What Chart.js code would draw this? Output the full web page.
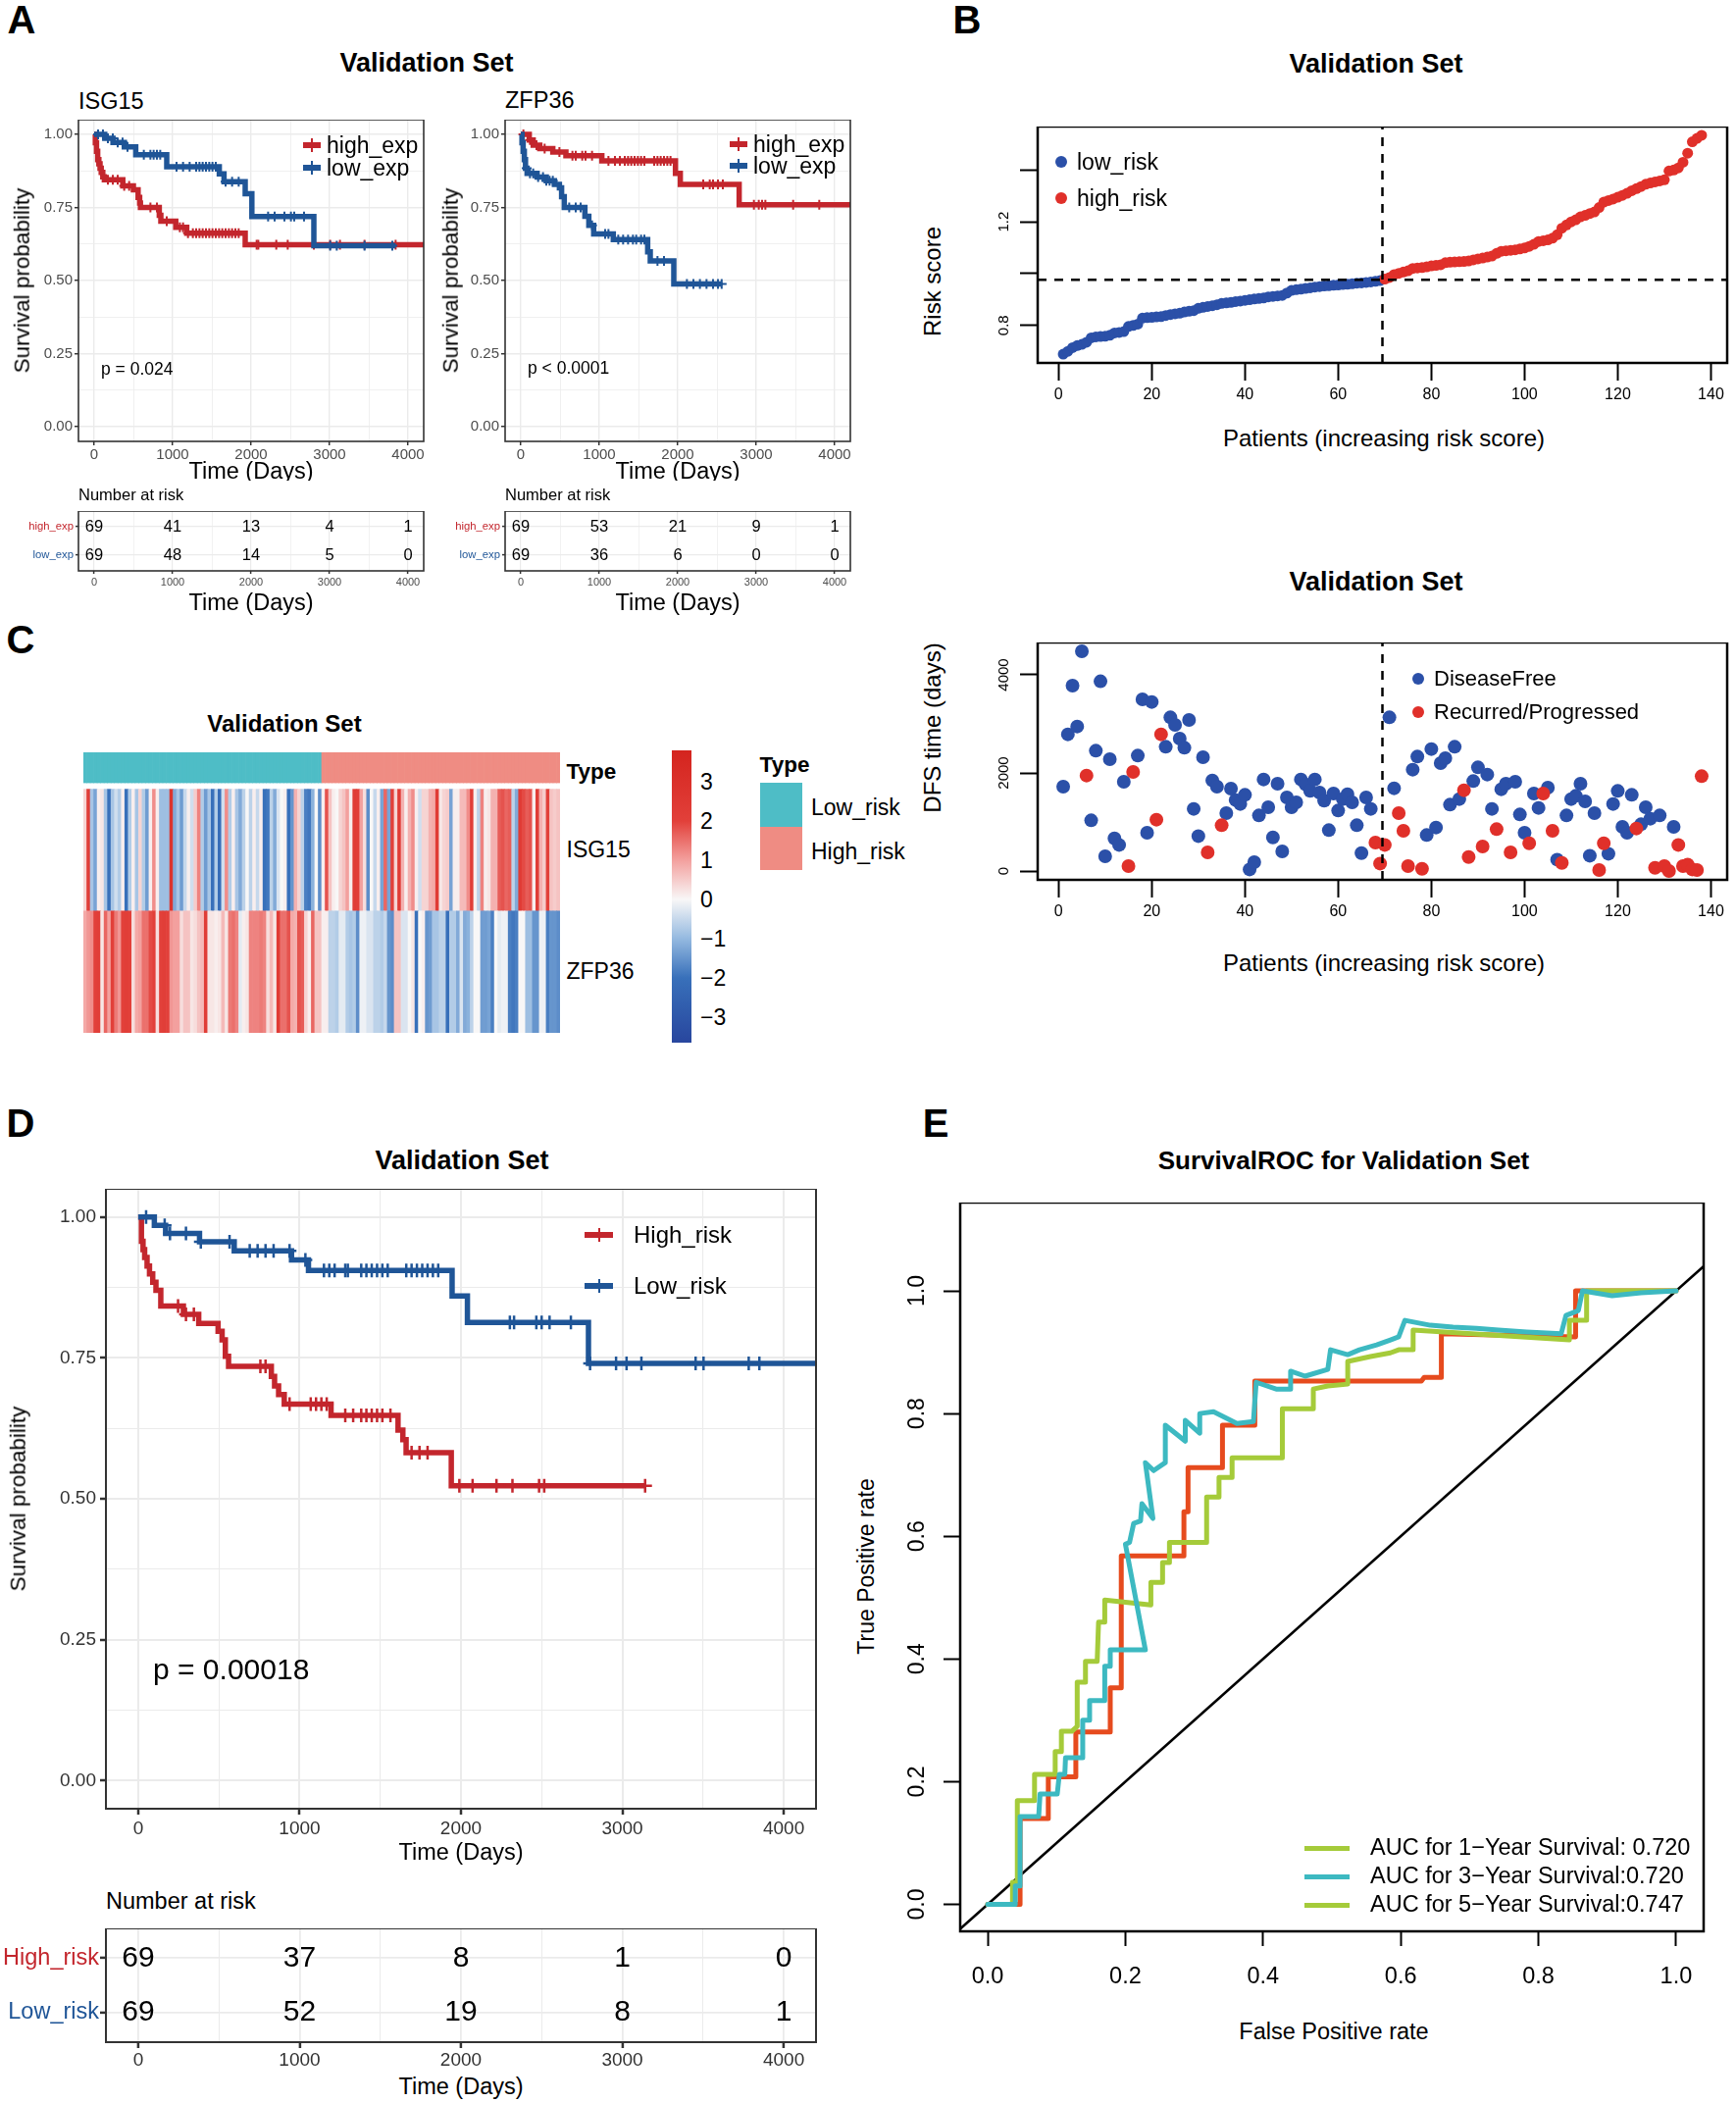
<!DOCTYPE html>
<html>
<head>
<meta charset="utf-8">
<script src="https://cdn.jsdelivr.net/npm/chart.js@4.4.1/dist/chart.umd.min.js"></script>
<style>
  body { margin: 0; width: 1770px; height: 2143px; position: relative; background: #fff; overflow: hidden;
         font-family: "Liberation Sans", Arial, Helvetica, sans-serif; }
  .t { position: absolute; white-space: nowrap; line-height: 1; }
  .r { position: absolute; }
</style>
</head>
<body>
<script>
// ---------------- data ----------------
// Kaplan-Meier axes
const kmTimeTicks = [0, 1000, 2000, 3000, 4000];
const kmMinorTimes = [500, 1500, 2500, 3500];
const survTicks = [0, 0.25, 0.5, 0.75, 1];
const survMinorTicks = [0.125, 0.375, 0.625, 0.875];
const riskTimes = [0, 1000, 2000, 3000, 4000];

// A: ISG15
const isgHighTime = [0, 15, 30, 45, 60, 75, 90, 110, 130, 365, 500, 560, 580, 590, 830, 850, 1040, 1180, 1925];
const isgHighSurv = [1, 0.971, 0.942, 0.913, 0.899, 0.884, 0.870, 0.855, 0.845, 0.824, 0.810, 0.784, 0.765, 0.750, 0.723, 0.703, 0.682, 0.662, 0.622];
const isgHighCens = [175, 238, 300, 383, 446, 717, 800, 925, 1092, 1133, 1196, 1258, 1300, 1342, 1383, 1425, 1467, 1508, 1550, 1592, 1633, 1675, 1717, 1758, 1800, 1842, 2071, 2092, 2321, 2467, 2800, 3008, 3133, 3446, 3842];
const isgHighEnd = 4250;
const isgLowTime = [0, 135, 240, 385, 530, 925, 1595, 1655, 1925, 2010, 2800];
const isgLowSurv = [1, 0.986, 0.972, 0.957, 0.930, 0.889, 0.865, 0.838, 0.797, 0.719, 0.619];
const isgLowCens = [50, 112, 175, 238, 300, 362, 425, 633, 717, 758, 800, 842, 1050, 1133, 1217, 1300, 1342, 1383, 1425, 1467, 1508, 1550, 1675, 1758, 1842, 2217, 2300, 2425, 2508, 2550, 2675, 3008, 3092, 3446, 3800];
const isgLowEnd = 3842;
const isgRiskHigh = [69, 41, 13, 4, 1];
const isgRiskLow = [69, 48, 14, 5, 0];

// A: ZFP36
const zfpHighTime = [0, 108, 158, 242, 408, 575, 1033, 1971, 2033, 2783];
const zfpHighSurv = [1, 0.980, 0.963, 0.951, 0.939, 0.927, 0.909, 0.866, 0.829, 0.759];
const zfpHighCens = [33, 117, 200, 304, 492, 658, 700, 783, 825, 908, 1117, 1200, 1263, 1325, 1367, 1408, 1450, 1492, 1533, 1575, 1700, 1742, 1783, 1825, 1867, 1908, 2325, 2408, 2450, 2513, 2575, 2971, 3033, 3075, 3117, 3471, 3804];
const zfpHighEnd = 4250;
const zfpLowTime = [0, 15, 30, 45, 60, 80, 208, 325, 429, 492, 520, 554, 817, 867, 929, 1179, 1617, 1650, 1950];
const zfpLowSurv = [1, 0.971, 0.942, 0.913, 0.884, 0.866, 0.854, 0.841, 0.829, 0.817, 0.787, 0.750, 0.720, 0.689, 0.659, 0.640, 0.598, 0.567, 0.488];
const zfpLowCens = [75, 117, 158, 221, 283, 325, 367, 408, 617, 700, 763, 908, 1075, 1117, 1242, 1304, 1367, 1429, 1471, 1533, 1575, 1742, 1825, 2117, 2200, 2283, 2367, 2450, 2513, 2560];
const zfpLowEnd = 2560;
const zfpRiskHigh = [69, 53, 21, 9, 1];
const zfpRiskLow = [69, 36, 6, 0, 0];

// B: risk score (patients sorted by increasing risk) and DFS
const groupSizes = [69, 69]; // low_risk, high_risk
const riskScore = [0.689, 0.700, 0.714, 0.722, 0.727, 0.735, 0.752, 0.756, 0.757, 0.758,
  0.762, 0.771, 0.773, 0.776, 0.796, 0.800, 0.805, 0.828, 0.830, 0.831,
  0.833, 0.834, 0.838, 0.842, 0.845, 0.847, 0.852, 0.855, 0.857, 0.866,
  0.870, 0.873, 0.876, 0.880, 0.885, 0.887, 0.889, 0.892, 0.894, 0.897,
  0.899, 0.902, 0.904, 0.906, 0.910, 0.912, 0.914, 0.916, 0.925, 0.935,
  0.938, 0.940, 0.943, 0.945, 0.948, 0.950, 0.952, 0.953, 0.955, 0.956,
  0.958, 0.959, 0.961, 0.963, 0.964, 0.966, 0.968, 0.970, 0.973, 0.979,
  0.985, 0.996, 1.001, 1.006, 1.011, 1.020, 1.022, 1.023, 1.026, 1.030,
  1.032, 1.034, 1.042, 1.044, 1.045, 1.046, 1.047, 1.049, 1.053, 1.057,
  1.060, 1.064, 1.068, 1.078, 1.086, 1.088, 1.090, 1.092, 1.095, 1.099,
  1.105, 1.113, 1.124, 1.127, 1.130, 1.137, 1.150, 1.175, 1.188, 1.200,
  1.208, 1.219, 1.225, 1.232, 1.238, 1.255, 1.276, 1.282, 1.288, 1.295,
  1.302, 1.310, 1.320, 1.328, 1.336, 1.345, 1.350, 1.354, 1.358, 1.362,
  1.396, 1.400, 1.408, 1.430, 1.465, 1.509, 1.522, 1.534];
const riskTicks = [0.8, 1.0, 1.2, 1.4];
const riskTickLabels = ['0.8', '', '1.2', ''];
const patientTicks = [0, 20, 40, 60, 80, 100, 120, 140];
const dfsTime = [1720, 2787, 3780, 2947, 4480, 1947, 1033, 2453, 3867, 300,
  2280, 667, 533, 1820, 100, 2020, 2353, 3500, 780, 3447,
  1047, 2787, 2533, 3133, 2980, 2700, 2513, 3080, 1267, 713,
  2320, 380, 1847, 1720, 933, 1180, 1680, 1447, 1367, 1553,
  33, 180, 1133, 1867, 1300, 687, 1780, 400, 1500, 1300,
  1400, 1867, 1767, 1633, 1867, 1600, 1433, 833, 1580, 1233,
  1467, 1567, 1400, 933, 367, 1500, 1267, 580, 153, 533,
  3133, 1687, 1180, 820, 100, 2067, 2333, 47, 733, 2487,
  887, 2200, 2300, 1353, 2533, 1467, 1647, 287, 1833, 2113,
  500, 1967, 1267, 853, 1667, 1780, 380, 1820, 1153, 780,
  567, 1580, 1287, 1580, 1700, 820, 233, 167, 1133, 1467,
  1533, 1780, 1420, 313, 1180, 20, 567, 353, 1367, 1633,
  900, 780, 1553, 867, 953, 1300, 1067, 67, 1133, 100,
  0, 900, 533, 100, 133, 33, 20, 1933];
const dfsStatus = [0, 0, 0, 0, 0, 1, 0, 0, 0, 0,
  0, 0, 0, 0, 1, 1, 0, 0, 0, 0,
  1, 1, 0, 0, 0, 0, 0, 0, 0, 0,
  0, 1, 0, 0, 1, 0, 0, 0, 0, 0,
  0, 0, 0, 0, 0, 0, 0, 0, 0, 0,
  0, 0, 0, 0, 0, 0, 0, 0, 0, 0,
  0, 0, 0, 0, 0, 0, 0, 1, 1, 1,
  0, 0, 1, 1, 1, 0, 0, 1, 0, 0,
  0, 0, 0, 0, 0, 0, 1, 1, 0, 0,
  1, 0, 0, 1, 0, 0, 1, 0, 0, 0,
  1, 0, 0, 1, 0, 1, 0, 1, 0, 0,
  0, 0, 0, 0, 0, 1, 1, 0, 0, 0,
  0, 0, 0, 1, 0, 0, 0, 1, 0, 1,
  1, 0, 1, 1, 1, 1, 1, 1];
const dfsTicks = [0, 2000, 4000];

// C: heatmap z-scores (same patient order)
const isg15 = [0.4, 2.2, -0.8, -1.3, 0.1, 0.2, -0.8, -2.0, -0.8, -0.4,
  -0.7, 0.1, -2.0, -0.7, 0.1, -0.8, 0.4, -0.7, -1.4, 0.1,
  1.2, 0.1, -0.9, -0.9, -0.9, 2.8, -1.2, -0.8, -1.4, -0.5,
  0.1, -0.4, 0.5, 1.3, -0.7, -1.4, -0.8, -2.0, -0.7, -2.1,
  -0.4, 1.2, -0.7, 0.1, -0.8, -1.2,
  -0.6, 0.0, -0.6, 0.1, -0.5, 0.1, -2.0, -1.9, -0.6, -1.2,
  -0.3, 0.0, 0.1, -2.0, -1.5, 0.8, 0.4, -0.6, -1.8, -1.9,
  -1.1, 0.0, -1.6, 0.1, 1.8, 0.6, 0.1, 0.0, 0.4, 0.6,
  1.0, 0.1, 2.2, 2.1, 1.0, 0.3, -1.6, 0.0, -0.5, 0.1,
  -1.3, 1.6, -1.3, 2.0, 0.4, 2.3,
  0.8, 0.1, 0.8, 1.2, 0.1, -0.4, 0.4, 0.4, 0.8, 0.9,
  2.3, 0.2, 0.4, 0.5, -1.3, 0.1, 0.1, 0.7, 0.7, 1.2,
  2.2, 0.1, -0.6, 1.3, 0.1, 0.2, 0.8, 0.8, 1.7, 1.8,
  1.6, 1.7, -0.6, -1.2, 2.3, 1.9, 1.7, 1.8, 0.1, 2.2,
  0.8, 0.5, 2.0, 0.6, 0.5, 0.6];
const zfp36 = [0.9, 1.1, 1.2, 2.0, 2.1, 0.2, 1.6, 1.0, 2.0, 1.4,
  1.1, 2.0, 2.1, 2.0, 0.3, 0.9, 1.0, 1.5, 1.5, 1.9,
  2.0, 0.3, 2.0, 2.1, 2.0, 1.1, 1.0, 1.0, 0.3, 0.6,
  0.6, 0.2, 0.3, 0.6, 0.7, 2.2, 0.2, 0.2, 0.1, 0.2,
  0.7, 0.2, 1.4, 1.5, 1.3, -0.2,
  0.1, 0.2, 1.3, 1.3, 1.3, 1.4, 1.3, 0.3, 0.7, 0.2,
  2.3, 1.5, 1.5, 1.8, 0.9, 0.8, 1.8, 1.7, 0.4, 0.1,
  1.6, 0.6, 0.6, 0.1, 0.1, -0.6, -0.6, -0.7, -0.2, -0.2,
  -0.7, -0.8, -0.7, -1.6, -0.1, -0.1, -0.3, -0.3, -0.6, -0.6,
  -0.7, -0.5, -1.5, -1.6, 0.6, 0.6,
  -0.3, -0.3, 0.0, 0.2, -2.0, 0.0, 0.1, -1.5, -1.4, -0.8,
  -0.8, -0.6, -0.6, -2.0, -0.7, -0.7, -1.2, -0.3, -1.2, -1.1,
  -0.6, 0.0, 0.0, -1.4, -1.4, -1.3, -1.8, 0.0, -0.2, -0.1,
  -0.1, -1.8, -1.9, -1.8, 0.0, 0.0, -0.9, -0.9, -1.5, -1.5,
  -0.1, -0.1, -1.8, -1.5, -1.5, -1.6];
const colorbarTicks = [3, 2, 1, 0, -1, -2, -3];
const colorbarRange = [-3.65, 3.8];

// D: risk groups
const dHighTime = [0, 20, 30, 40, 55, 70, 90, 110, 140, 280, 375, 495, 520, 540, 560, 825, 845, 870, 905, 1195, 1610, 1640, 1660, 1940];
const dHighSurv = [1, 0.957, 0.942, 0.928, 0.913, 0.899, 0.884, 0.870, 0.842, 0.827, 0.811, 0.797, 0.782, 0.753, 0.735, 0.717, 0.700, 0.685, 0.668, 0.648, 0.622, 0.605, 0.582, 0.523];
const dHighCens = [247, 296, 345, 757, 789, 938, 1069, 1102, 1135, 1168, 1283, 1332, 1382, 1414, 1447, 1480, 1513, 1563, 1694, 1743, 1793, 1990, 2072, 2220, 2319, 2484, 2516, 3141];
const dHighEnd = 3141;
const dLowTime = [0, 100, 170, 380, 595, 950, 1055, 1945, 2040, 2790];
const dLowSurv = [1, 0.985, 0.971, 0.956, 0.940, 0.924, 0.905, 0.860, 0.813, 0.740];
const dLowCens = [49, 164, 197, 296, 388, 566, 691, 740, 789, 839, 938, 1036, 1151, 1184, 1217, 1283, 1299, 1382, 1414, 1447, 1480, 1513, 1546, 1661, 1694, 1727, 1760, 1793, 1826, 1859, 2303, 2329, 2467, 2500, 2549, 2681, 2800, 2961, 3026, 3118, 3454, 3503, 3783, 3849];
const dLowEnd = 4250;
const dRiskHigh = [69, 37, 8, 1, 0];
const dRiskLow = [69, 52, 19, 8, 1];

// E: survival ROC curves
const rocTicks = [0, 0.2, 0.4, 0.6, 0.8, 1.0];
const rocOrangeFpr = [0, 0.047, 0.047, 0.088, 0.088, 0.128, 0.128, 0.178, 0.178, 0.194, 0.194, 0.285, 0.285, 0.291, 0.291, 0.341, 0.341, 0.388, 0.388, 0.630, 0.634, 0.659, 0.659, 0.854, 0.854, 1];
const rocOrangeTpr = [0, 0, 0.140, 0.140, 0.208, 0.208, 0.281, 0.281, 0.353, 0.353, 0.568, 0.568, 0.640, 0.640, 0.712, 0.712, 0.781, 0.781, 0.853, 0.853, 0.859, 0.859, 0.930, 0.925, 1.0, 1.0];
const rocGreenFpr = [0, 0.036, 0.036, 0.043, 0.043, 0.068, 0.068, 0.097, 0.098, 0.107, 0.107, 0.122, 0.130, 0.130, 0.142, 0.142, 0.159, 0.161, 0.170, 0.170, 0.237, 0.237, 0.254, 0.254, 0.264, 0.264, 0.318, 0.318, 0.336, 0.336, 0.355, 0.355, 0.428, 0.428, 0.473, 0.473, 0.494, 0.523, 0.523, 0.556, 0.585, 0.597, 0.618, 0.618, 0.845, 0.845, 0.870, 0.870, 1];
const rocGreenTpr = [0, 0, 0.036, 0.036, 0.169, 0.169, 0.212, 0.212, 0.249, 0.249, 0.282, 0.282, 0.290, 0.362, 0.362, 0.396, 0.396, 0.460, 0.460, 0.496, 0.488, 0.525, 0.525, 0.557, 0.557, 0.590, 0.590, 0.664, 0.664, 0.696, 0.696, 0.728, 0.728, 0.808, 0.808, 0.840, 0.845, 0.848, 0.885, 0.893, 0.899, 0.904, 0.904, 0.936, 0.920, 0.952, 0.952, 1.0, 1.0];
const rocTealFpr = [0, 0.040, 0.040, 0.047, 0.047, 0.074, 0.076, 0.101, 0.104, 0.112, 0.113, 0.138, 0.138, 0.148, 0.148, 0.170, 0.170, 0.178, 0.178, 0.229, 0.200, 0.206, 0.212, 0.222, 0.224, 0.240, 0.229, 0.241, 0.258, 0.258, 0.287, 0.287, 0.308, 0.308, 0.328, 0.362, 0.386, 0.390, 0.419, 0.440, 0.440, 0.461, 0.494, 0.498, 0.523, 0.540, 0.565, 0.585, 0.597, 0.606, 0.643, 0.676, 0.710, 0.742, 0.783, 0.833, 0.840, 0.858, 0.864, 0.907, 0.949, 1];
const rocTealTpr = [0, 0, 0.030, 0.030, 0.143, 0.143, 0.180, 0.180, 0.212, 0.212, 0.239, 0.239, 0.300, 0.300, 0.332, 0.332, 0.388, 0.388, 0.415, 0.415, 0.587, 0.590, 0.621, 0.625, 0.653, 0.629, 0.720, 0.707, 0.720, 0.781, 0.755, 0.789, 0.768, 0.800, 0.803, 0.784, 0.787, 0.851, 0.840, 0.840, 0.869, 0.861, 0.872, 0.904, 0.896, 0.904, 0.912, 0.920, 0.925, 0.952, 0.944, 0.941, 0.939, 0.936, 0.933, 0.930, 0.960, 0.968, 1.0, 0.992, 0.997, 1.0];
const rocLegendLabels = ['AUC for 1\u2212Year Survival: 0.720', 'AUC for 3\u2212Year Survival:0.720', 'AUC for 5\u2212Year Survival:0.747'];

// ---------------- styles ----------------
const ARIAL = '"Liberation Sans", Arial, Helvetica, sans-serif';
const KM_RED = '#C3262D', KM_BLUE = '#1F5597';
const PT_BLUE = '#2B50A8', PT_RED = '#E0302A';
const TEAL = '#4EBDC6', SALMON = '#EF8C83';
const ROC_ORANGE = '#E64B1E', ROC_GREEN = '#A5CB3A', ROC_TEAL = '#3DB9C1';
const rocLegendColors = [ROC_GREEN, ROC_TEAL, ROC_GREEN];

// ---------------- helpers ----------------
function txt(s, x, y, size, o = {}) {
  const d = document.createElement('div');
  d.className = 't';
  d.textContent = s;
  const ax = o.align === 'left' ? '0%' : o.align === 'right' ? '-100%' : '-50%';
  d.style.cssText = `left:${x}px;top:${y}px;font-size:${size}px;font-weight:${o.bold ? 'bold' : 'normal'};` +
    `color:${o.color || '#000'};transform:translate(${ax},-50%)${o.rot ? ' rotate(' + o.rot + 'deg)' : ''};`;
  document.body.appendChild(d);
}
function rect(x, y, w, h, color, extra = '') {
  const d = document.createElement('div');
  d.className = 'r';
  d.style.cssText = `left:${x}px;top:${y}px;width:${w}px;height:${h}px;background:${color};${extra}`;
  document.body.appendChild(d);
}
function ext(arr, f) {
  const lo = Math.min(...arr), hi = Math.max(...arr), d = (hi - lo) * f;
  return [lo - d, hi + d];
}
function survAt(time, surv, t) {
  let s = surv[0];
  for (let i = 0; i < time.length; i++) if (time[i] <= t) s = surv[i];
  return s;
}
function canvasFor(box, m) {
  const [l, t, r, b] = box;
  const W = Math.round(r - l + m.l + m.r), H = Math.round(b - t + m.t + m.b);
  const c = document.createElement('canvas');
  c.width = W; c.height = H;
  c.style.cssText = `position:absolute;left:${l - m.l}px;top:${t - m.t}px;width:${W}px;height:${H}px;`;
  document.body.appendChild(c);
  return c;
}
function fitTo(size, horizontal) {
  return s => {
    if (horizontal) s.height = size; else s.width = size;
    s.paddingLeft = s.paddingRight = s.paddingTop = s.paddingBottom = 0;
  };
}
function baseOptions(m, plugins, scales) {
  return {
    responsive: false, animation: false, events: [],
    layout: { padding: { top: m.t, right: m.r, left: 0, bottom: 0 }, autoPadding: false },
    plugins: Object.assign({ legend: { display: false }, tooltip: { enabled: false } }, plugins),
    scales
  };
}

// plugins: panel frame, risk-table numbers, rotated y labels
const framePlugin = {
  id: 'frame',
  afterDatasetsDraw(chart, args, o) {
    const { ctx, chartArea: a } = chart;
    ctx.save();
    ctx.strokeStyle = o.color || '#000';
    ctx.lineWidth = o.width || 2;
    ctx.strokeRect(a.left, a.top, a.right - a.left, a.bottom - a.top);
    ctx.restore();
  }
};
const cellTextPlugin = {
  id: 'cellText',
  afterDatasetsDraw(chart, args, o) {
    const { ctx, scales: { x, y } } = chart;
    ctx.save();
    ctx.font = `${o.size}px ${ARIAL}`;
    ctx.fillStyle = '#000';
    ctx.textAlign = 'center';
    ctx.textBaseline = 'middle';
    o.rows.forEach(r => r.values.forEach((v, i) => {
      ctx.fillText(String(v), x.getPixelForValue(o.times[i]), y.getPixelForValue(r.y));
    }));
    ctx.restore();
  }
};
const rotYPlugin = {
  id: 'rotY',
  afterDraw(chart, args, o) {
    const { ctx, chartArea } = chart, y = chart.scales.y;
    ctx.save();
    ctx.font = `${o.size}px ${ARIAL}`;
    ctx.fillStyle = '#000';
    ctx.textAlign = 'center';
    ctx.textBaseline = 'middle';
    o.values.forEach((v, i) => {
      if (!o.labels[i]) return;
      ctx.save();
      ctx.translate(chartArea.left - o.offset, y.getPixelForValue(v));
      ctx.rotate(-Math.PI / 2);
      ctx.fillText(o.labels[i], 0, 0);
      ctx.restore();
    });
    ctx.restore();
  }
};

// ggplot-like axis (grey grid, short ticks)
function ggAxis(horizontal, range, major, minor, fmt, st) {
  const all = major.concat(minor).sort((a, b) => a - b);
  return {
    type: 'linear', min: range[0], max: range[1],
    afterBuildTicks: s => { s.ticks = all.map(v => ({ value: v })); },
    afterFit: fitTo(st.size, horizontal),
    ticks: { autoSkip: false, maxRotation: 0, minRotation: 0, padding: st.pad, color: st.color || '#4D4D4D',
             font: { family: ARIAL, size: st.font }, callback: v => major.includes(v) ? fmt(v) : '' },
    grid: { color: '#EBEBEB', lineWidth: c => major.includes(c.tick.value) ? st.gw : st.gw * 0.55,
            tickLength: st.tl, tickWidth: st.tw, tickColor: c => major.includes(c.tick.value) ? '#333' : 'rgba(0,0,0,0)' },
    border: { display: false }
  };
}
// R base-graphics axis (outer ticks only)
function rAxis(horizontal, range, ticks, fmt, st) {
  return {
    type: 'linear', min: range[0], max: range[1],
    afterBuildTicks: s => { s.ticks = ticks.map(v => ({ value: v })); },
    afterFit: fitTo(st.size, horizontal),
    ticks: { display: st.labels !== false, autoSkip: false, maxRotation: 0, minRotation: 0, padding: st.pad || 0,
             color: '#000', font: { family: ARIAL, size: st.font || 12 }, callback: fmt },
    grid: { drawOnChartArea: false, tickLength: st.tl, tickWidth: st.tw, tickColor: '#000' },
    border: { display: false }
  };
}

function kmChart(box, m, curves, st) {
  const c = canvasFor(box, m);
  const datasets = [];
  curves.forEach(k => {
    const line = k.time.map((t, i) => ({ x: t, y: k.surv[i] }));
    line.push({ x: k.end, y: k.surv[k.surv.length - 1] });
    datasets.push({ data: k.cens.map(t => ({ x: t, y: survAt(k.time, k.surv, t) })), showLine: false,
                    pointStyle: 'cross', pointRadius: st.cr, borderColor: k.color, borderWidth: st.cw, clip: 0 });
    datasets.push({ data: line, showLine: true, stepped: 'before', borderColor: k.color, borderWidth: st.lw,
                    pointRadius: 0, clip: 0 });
  });
  new Chart(c, {
    type: 'scatter', data: { datasets }, plugins: [framePlugin],
    options: baseOptions(m, { frame: { color: '#333', width: st.fw } }, {
      x: ggAxis(true, ext(kmTimeTicks, 0.05), kmTimeTicks, kmMinorTimes, v => String(v),
                { size: m.b, pad: st.xpad, font: st.font, tl: st.tl, tw: st.tw, gw: st.gw, color: st.tcol }),
      y: ggAxis(false, ext(survTicks, 0.05), survTicks, survMinorTicks, v => v.toFixed(2),
                { size: m.l, pad: st.ypad, font: st.font, tl: st.tl, tw: st.tw, gw: st.gw, color: st.tcol })
    })
  });
}

function riskTable(box, m, rows, st) {
  const c = canvasFor(box, m);
  const tableRows = rows.map((r, i) => Object.assign({ y: rows.length - i }, r));
  const yAxis = ggAxis(false, [0.45, rows.length + 0.55], tableRows.map(r => r.y), [], v => {
    const r = tableRows.find(q => q.y === v); return r ? r.label : '';
  }, { size: m.l, pad: st.ypad, font: st.labelFont, tl: st.tl, tw: st.tw, gw: st.gw });
  yAxis.ticks.color = ctx => (tableRows.find(q => q.y === ctx.tick.value) || {}).color || '#000';
  new Chart(c, {
    type: 'scatter', data: { datasets: [] }, plugins: [framePlugin, cellTextPlugin],
    options: baseOptions(m, {
      frame: { color: '#333', width: st.fw },
      cellText: { size: st.numFont, times: riskTimes, rows: tableRows }
    }, {
      x: ggAxis(true, ext(kmTimeTicks, 0.05), kmTimeTicks, kmMinorTimes, v => String(v),
                { size: m.b, pad: st.xpad, font: st.tickFont, tl: st.tl, tw: st.tw, gw: st.gw, color: st.tcol }),
      y: yAxis
    })
  });
}

function kmLegend(x, y, w, h, color, label, size, textX) {
  rect(x, y - h / 2, w, h, color);
  rect(x + w / 2 - 1, y - h / 2 - 4, 2, h + 8, color);
  txt(label, textX, y, size, { align: 'left' });
}

// ---------------- panel letters ----------------
txt('A', 22, 20, 40, { bold: true });
txt('B', 986, 20, 40, { bold: true });
txt('C', 21, 652, 40, { bold: true });
txt('D', 21, 1145, 40, { bold: true });
txt('E', 954, 1145, 40, { bold: true });

// ---------------- panel A ----------------
txt('Validation Set', 435, 64, 27, { bold: true });
const kmStyleA = { lw: 5.5, cr: 5, cw: 2, fw: 1.6, font: 15, xpad: 1, ypad: 2, tl: 4, tw: 1.5, gw: 1.4 };
kmChart([80, 122, 432, 450], { l: 80, r: 3, t: 0, b: 22 }, [
  { time: isgLowTime, surv: isgLowSurv, cens: isgLowCens, end: isgLowEnd, color: KM_BLUE },
  { time: isgHighTime, surv: isgHighSurv, cens: isgHighCens, end: isgHighEnd, color: KM_RED }
], kmStyleA);
kmChart([515, 122, 867, 450], { l: 80, r: 3, t: 0, b: 22 }, [
  { time: zfpLowTime, surv: zfpLowSurv, cens: zfpLowCens, end: zfpLowEnd, color: KM_BLUE },
  { time: zfpHighTime, surv: zfpHighSurv, cens: zfpHighCens, end: zfpHighEnd, color: KM_RED }
], kmStyleA);
txt('ISG15', 80, 104, 23.5, { align: 'left' });
txt('ZFP36', 515, 103, 23.5, { align: 'left' });
txt('Survival probability', 23, 286, 22.5, { rot: -90 });
txt('Survival probability', 460, 286, 22.5, { rot: -90 });
txt('Time (Days)', 256, 481, 23.5);
txt('Time (Days)', 691, 481, 23.5);
kmLegend(309, 148, 18, 6, KM_RED, 'high_exp', 23, 333);
kmLegend(309, 171, 18, 6, KM_BLUE, 'low_exp', 23, 333);
kmLegend(744, 147, 18, 6, KM_RED, 'high_exp', 23, 768);
kmLegend(744, 169, 18, 6, KM_BLUE, 'low_exp', 23, 768);
txt('p = 0.024', 103, 377, 17.5, { align: 'left' });
txt('p < 0.0001', 538, 376, 17.5, { align: 'left' });
rect(0, 490, 880, 30, '#fff');
txt('Number at risk', 80, 504, 16.5, { align: 'left' });
txt('Number at risk', 515, 504, 16.5, { align: 'left' });
const tabStyleA = { numFont: 16.5, labelFont: 11.3, tickFont: 11, fw: 1.6, xpad: 2, ypad: 2, tl: 3, tw: 1.5, gw: 1.2 };
riskTable([80, 521, 432, 582], { l: 80, r: 3, t: 0, b: 20 }, [
  { label: 'high_exp', color: KM_RED, values: isgRiskHigh },
  { label: 'low_exp', color: KM_BLUE, values: isgRiskLow }
], tabStyleA);
riskTable([515, 521, 867, 582], { l: 80, r: 3, t: 0, b: 20 }, [
  { label: 'high_exp', color: KM_RED, values: zfpRiskHigh },
  { label: 'low_exp', color: KM_BLUE, values: zfpRiskLow }
], tabStyleA);
txt('Time (Days)', 256, 615, 23.5);
txt('Time (Days)', 691, 615, 23.5);

// ---------------- panel B ----------------
const patientIdx = riskScore.map((_, i) => i + 1);
const xPat = ext(patientIdx, 0.04);
const nLow = groupSizes[0];
const cutX = nLow + 0.5;
const cutY = (riskScore[nLow - 1] + riskScore[nLow]) / 2;
const rX = (size) => rAxis(true, xPat, patientTicks, v => String(v), { size, pad: 5, font: 16, tl: 18, tw: 2 });

(function riskPlot() {
  const m = { l: 60, r: 5, t: 0, b: 45 };
  const yr = ext(riskScore, 0.04);
  const c = canvasFor([1058, 129, 1761, 370], m);
  const pts = patientIdx.map(i => ({ x: i, y: riskScore[i - 1] }));
  new Chart(c, {
    type: 'scatter',
    data: { datasets: [
      { data: [{ x: cutX, y: yr[0] }, { x: cutX, y: yr[1] }], showLine: true, borderColor: '#000', borderWidth: 2.5, borderDash: [9, 8], pointRadius: 0 },
      { data: [{ x: xPat[0], y: cutY }, { x: xPat[1], y: cutY }], showLine: true, borderColor: '#000', borderWidth: 2.5, borderDash: [9, 8], pointRadius: 0 },
      { data: pts.slice(nLow), pointRadius: 5.5, backgroundColor: PT_RED, borderWidth: 0 },
      { data: pts.slice(0, nLow), pointRadius: 5.5, backgroundColor: PT_BLUE, borderWidth: 0 }
    ] },
    plugins: [framePlugin, rotYPlugin],
    options: baseOptions(m, {
      frame: { color: '#000', width: 2.5 },
      rotY: { values: riskTicks, labels: riskTickLabels, offset: 34, size: 15 }
    }, {
      x: rX(m.b),
      y: rAxis(false, yr, riskTicks, () => '', { size: m.l, labels: false, tl: 18, tw: 2 })
    })
  });
})();
txt('Validation Set', 1403, 65, 27, { bold: true });
txt('Risk score', 951, 287, 24, { rot: -90 });
txt('Patients (increasing risk score)', 1411, 447, 24);
rect(1076, 159, 12, 12, PT_BLUE, 'border-radius:50%;');
txt('low_risk', 1098, 165, 23, { align: 'left' });
rect(1076, 196, 12, 12, PT_RED, 'border-radius:50%;');
txt('high_risk', 1098, 202, 23, { align: 'left' });

(function dfsPlot() {
  const m = { l: 60, r: 5, t: 0, b: 45 };
  const yr = ext(dfsTime, 0.04);
  const c = canvasFor([1058, 655, 1761, 897], m);
  const pts = patientIdx.map(i => ({ x: i, y: dfsTime[i - 1], s: dfsStatus[i - 1] }));
  new Chart(c, {
    type: 'scatter',
    data: { datasets: [
      { data: [{ x: cutX, y: yr[0] }, { x: cutX, y: yr[1] }], showLine: true, borderColor: '#000', borderWidth: 2.5, borderDash: [9, 8], pointRadius: 0 },
      { data: pts.filter(p => p.s === 1), pointRadius: 7, backgroundColor: PT_RED, borderWidth: 0 },
      { data: pts.filter(p => p.s === 0), pointRadius: 7, backgroundColor: PT_BLUE, borderWidth: 0 }
    ] },
    plugins: [framePlugin, rotYPlugin],
    options: baseOptions(m, {
      frame: { color: '#000', width: 2.5 },
      rotY: { values: dfsTicks, labels: dfsTicks.map(String), offset: 34, size: 15 }
    }, {
      x: rX(m.b),
      y: rAxis(false, yr, dfsTicks, () => '', { size: m.l, labels: false, tl: 18, tw: 2 })
    })
  });
})();
txt('Validation Set', 1403, 593, 27, { bold: true });
txt('DFS time (days)', 951, 742, 24, { rot: -90 });
txt('Patients (increasing risk score)', 1411, 982, 24);
rect(1440, 686, 12, 12, PT_BLUE, 'border-radius:50%;');
txt('DiseaseFree', 1462, 692, 22, { align: 'left' });
rect(1440, 720, 12, 12, PT_RED, 'border-radius:50%;');
txt('Recurred/Progressed', 1462, 726, 22, { align: 'left' });

// ---------------- panel C ----------------
const heatStops = [-3.65, -2, -1, 0, 1, 2, 3.8];
const heatRGB = [[40, 70, 158], [56, 112, 186], [148, 185, 224], [248, 247, 247], [243, 160, 158], [226, 64, 58], [212, 36, 30]];
function heatColor(v) {
  if (v <= heatStops[0]) return `rgb(${heatRGB[0].join(',')})`;
  for (let i = 1; i < heatStops.length; i++) {
    if (v <= heatStops[i]) {
      const f = (v - heatStops[i - 1]) / (heatStops[i] - heatStops[i - 1]);
      const a = heatRGB[i - 1], b = heatRGB[i];
      return `rgb(${a.map((q, k) => Math.round(q + (b[k] - q) * f)).join(',')})`;
    }
  }
  return `rgb(${heatRGB[heatRGB.length - 1].join(',')})`;
}
const riskGroup = patientIdx.map(i => (i <= nLow ? 'Low_risk' : 'High_risk'));
const HM_GAP = 0.053, HM_TYPE = 0.25;
(function heatmap() {
  const m = { l: 0, r: 0, t: 0, b: 0 };
  const c = canvasFor([84.5, 766.7, 570, 1052.7], m);
  new Chart(c, {
    type: 'bar',
    data: { labels: patientIdx, datasets: [
      { label: 'ZFP36', data: zfp36.map(() => 1), backgroundColor: zfp36.map(heatColor) },
      { label: 'ISG15', data: isg15.map(() => 1), backgroundColor: isg15.map(heatColor) },
      { label: 'gap', data: isg15.map(() => HM_GAP), backgroundColor: 'rgba(255,255,255,0)' },
      { label: 'Type', data: riskGroup.map(() => HM_TYPE), backgroundColor: riskGroup.map(g => (g === 'Low_risk' ? TEAL : SALMON)) }
    ] },
    options: {
      responsive: false, animation: false, events: [],
      layout: { padding: 0, autoPadding: false },
      datasets: { bar: { barPercentage: 1, categoryPercentage: 1, borderWidth: 0 } },
      plugins: { legend: { display: false }, tooltip: { enabled: false } },
      scales: {
        x: { stacked: true, display: false },
        y: { stacked: true, display: false, min: 0, max: 2 + HM_GAP + HM_TYPE }
      }
    }
  });
})();
txt('Validation Set', 290, 738, 24, { bold: true });
txt('Type', 577.5, 787, 22.5, { bold: true, align: 'left' });
txt('ISG15', 577.5, 866, 23, { align: 'left' });
txt('ZFP36', 577.5, 990, 23, { align: 'left' });
// colour key
const cbTop = 765, cbH = 298, cbSpan = colorbarRange[1] - colorbarRange[0];
const cbY = v => cbTop + (colorbarRange[1] - v) / cbSpan * cbH;
const grad = heatStops.slice().reverse().map((v, i) => {
  const rgbv = heatRGB[heatRGB.length - 1 - i];
  return `rgb(${rgbv.join(',')}) ${((colorbarRange[1] - v) / cbSpan * 100).toFixed(2)}%`;
}).join(',');
rect(685, cbTop, 20, cbH, `linear-gradient(to bottom, ${grad})`);
colorbarTicks.forEach(v => txt(v < 0 ? '\u2212' + Math.abs(v) : String(v), 714, cbY(v), 23, { align: 'left' }));
txt('Type', 774.6, 780, 22.5, { bold: true, align: 'left' });
rect(774.6, 798, 43.4, 44.7, TEAL);
rect(774.6, 842.7, 43.4, 44.3, SALMON);
txt('Low_risk', 827, 823, 23, { align: 'left' });
txt('High_risk', 827, 868, 23, { align: 'left' });

// ---------------- panel D ----------------
txt('Validation Set', 471, 1183, 27, { bold: true });
kmChart([108, 1212, 832, 1844], { l: 108, r: 5, t: 0, b: 34 }, [
  { time: dLowTime, surv: dLowSurv, cens: dLowCens, end: dLowEnd, color: KM_BLUE },
  { time: dHighTime, surv: dHighSurv, cens: dHighCens, end: dHighEnd, color: KM_RED }
], { lw: 5.5, cr: 7, cw: 2.5, fw: 2, font: 19, xpad: 3, ypad: 4, tl: 6, tw: 2.5, gw: 2, tcol: '#333' });
txt('Survival probability', 19, 1528, 22.5, { rot: -90 });
txt('Time (Days)', 470, 1889, 23.5);
kmLegend(596, 1259, 29, 6, KM_RED, 'High_risk', 24, 646);
kmLegend(596, 1311, 29, 6, KM_BLUE, 'Low_risk', 24, 646);
txt('p = 0.00018', 156, 1702, 30, { align: 'left' });
txt('Number at risk', 108, 1939, 23.5, { align: 'left' });
riskTable([108, 1966, 832, 2082], { l: 108, r: 5, t: 0, b: 24 }, [
  { label: 'High_risk', color: KM_RED, values: dRiskHigh },
  { label: 'Low_risk', color: KM_BLUE, values: dRiskLow }
], { numFont: 30, labelFont: 23.5, tickFont: 19, fw: 2, xpad: 1, ypad: 1, tl: 6, tw: 2.5, gw: 1.8, tcol: '#333' });
txt('Time (Days)', 470, 2128, 23.5);

// ---------------- panel E ----------------
(function rocPlot() {
  const m = { l: 60, r: 5, t: 0, b: 60 };
  const xr = ext([0, 1], 0.04), yr = ext([0, 1.1], 0.04);
  const c = canvasFor([979, 1226, 1737, 1969], m);
  const curve = (fpr, tpr, color) => ({
    data: fpr.map((f, i) => ({ x: f, y: tpr[i] })), showLine: true, borderColor: color, borderWidth: 5,
    pointRadius: 0, borderJoinStyle: 'round', borderCapStyle: 'round', clip: 0
  });
  new Chart(c, {
    type: 'scatter',
    data: { datasets: [
      curve(rocTealFpr, rocTealTpr, ROC_TEAL),
      curve(rocGreenFpr, rocGreenTpr, ROC_GREEN),
      curve(rocOrangeFpr, rocOrangeTpr, ROC_ORANGE),
      { data: [{ x: xr[0], y: xr[0] }, { x: xr[1], y: xr[1] }], showLine: true, borderColor: '#000', borderWidth: 2.5, pointRadius: 0, clip: 0 }
    ] },
    plugins: [framePlugin, rotYPlugin],
    options: baseOptions(m, {
      frame: { color: '#000', width: 2.5 },
      rotY: { values: rocTicks, labels: rocTicks.map(v => v.toFixed(1)), offset: 43.5, size: 23 }
    }, {
      x: rAxis(true, xr, rocTicks, v => v.toFixed(1), { size: m.b, pad: 17, font: 23.5, tl: 15, tw: 2 }),
      y: rAxis(false, yr, rocTicks, () => '', { size: m.l, labels: false, tl: 17, tw: 2 })
    })
  });
})();
txt('SurvivalROC for Validation Set', 1370, 1183, 26, { bold: true });
txt('True Positive rate', 883, 1597, 23, { rot: -90 });
txt('False Positive rate', 1360, 2072, 23.5);
rocLegendLabels.forEach((s, i) => {
  const y = [1884, 1913, 1942][i];
  rect(1330, y - 2.5, 46, 5, rocLegendColors[i]);
  txt(s, 1397, y, 23.5, { align: 'left' });
});
</script>
</body>
</html>
